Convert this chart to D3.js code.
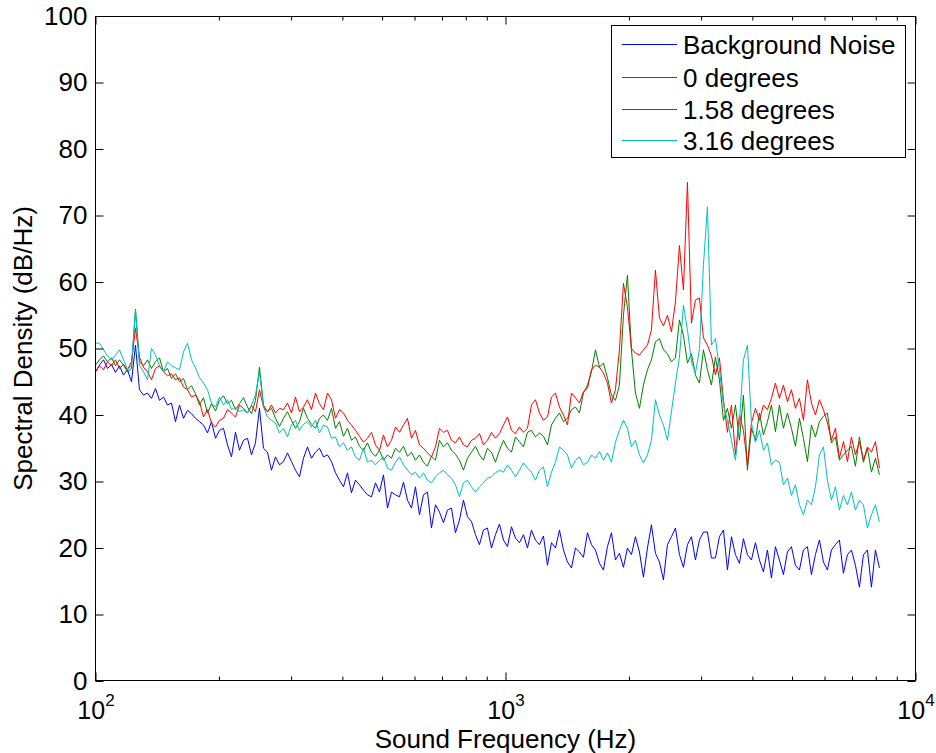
<!DOCTYPE html>
<html>
<head>
<meta charset="utf-8">
<script src="https://cdn.jsdelivr.net/npm/d3@7"></script>
<style>
  html, body { margin: 0; padding: 0; background: #fff; }
  svg { display: block; }
  text { font-family: "Liberation Sans", Arial, Helvetica, sans-serif; fill: #000; }
</style>
</head>
<body>
<svg id="chart" width="936" height="753"></svg>
<script>
// ---------------- data ----------------
const seriesNames = ["Background Noise", "0 degrees", "1.58 degrees", "3.16 degrees"];
const seriesColors = ["#0000ff", "#008000", "#ff0000", "#00bfbf"];
const freqMin = 100, freqMax = 8166, binCount = 197;   // analyser bins, log-spaced (Hz)
const freqs = d3.range(binCount).map(i => freqMin * Math.pow(freqMax / freqMin, i / (binCount - 1)));

const backgroundNoise = [
  46.5, 47.5, 48.3, 47, 47.6, 46.4, 47.4, 46, 46.8, 45,
  50.5, 43.8, 43, 43.3, 42.5, 44, 42.2, 42.7, 41.5, 41.8,
  39, 41.5, 39.5, 40.7, 40.2, 39.5, 39, 38.5, 37.3, 39,
  36.5, 37.7, 38, 35.5, 33.7, 37.4, 34.7, 36.2, 36.5, 34,
  35.8, 41, 35, 34.4, 31.7, 33.7, 32.5, 33, 34.3, 33,
  31.7, 30.7, 33.5, 35.2, 33.5, 34.4, 35, 33.7, 34, 33,
  31.3, 30.2, 29.2, 31.3, 28.3, 30.2, 29.5, 28.7, 28, 27.7,
  29.8, 28.4, 31, 26, 28.4, 28, 27.7, 29.9, 27.2, 26,
  29.2, 25, 28, 28.4, 23, 26.5, 25.4, 23.8, 25.7, 26,
  22.3, 24.2, 27.2, 24.7, 24, 22, 20.5, 22.7, 23, 20,
  22, 23.6, 21.2, 20.2, 23.2, 21.5, 20.8, 22, 20, 22.7,
  21.2, 20.5, 21.8, 17.4, 20.8, 20, 22.7, 19.7, 17.9, 17,
  20, 19.4, 18.6, 22.3, 20.5, 19.7, 17.7, 16.7, 20.2, 22.3,
  18.2, 19.2, 17.1, 20, 19, 21.7, 19.4, 15.6, 20, 23.5,
  19.2, 17.9, 15.2, 20.5, 21.7, 23, 19, 17.1, 20.5, 21.7,
  18.2, 21.2, 22.4, 22.4, 18.5, 18.5, 21.7, 22.7, 16.7, 21.7,
  19, 17.7, 21.4, 19, 18.2, 20.8, 18.2, 16.4, 19.7, 15.5,
  20.2, 18.2, 16, 19.4, 20.2, 17.4, 16.7, 19.7, 20.2, 16,
  19, 21.2, 17.9, 16.7, 19.7, 20.5, 21.2, 16.2, 19, 19.7,
  17.4, 14.1, 19, 19.7, 14.1, 19.7, 17
];
const deg0 = [
  47.5, 48.3, 48.9, 48, 48.6, 47.4, 48.3, 47.5, 46.5, 47,
  55.9, 48, 47.4, 48.3, 47, 48, 48.6, 46.5, 47, 45.5,
  46.2, 45, 45.5, 43.8, 44.4, 43.2, 41.5, 42.6, 40.3, 41.7,
  40.6, 42.2, 42.9, 41.7, 42.2, 40.8, 41.7, 42.6, 41.2, 40.2,
  42.2, 47.2, 41.5, 40.5, 41, 39.5, 38.3, 39.5, 40.5, 39.2,
  38, 39, 41, 39.5, 38.6, 38, 39.5, 40, 39.2, 41,
  38, 39, 36.8, 38, 36.2, 36.7, 35.3, 34.7, 35.8, 34.4,
  33.8, 34.7, 33.2, 34, 33.5, 35, 34.4, 35.3, 33.8, 34.4,
  33.2, 34, 32.9, 32.3, 33.8, 33.2, 36.2, 35.2, 35.8, 34.7,
  34.1, 33.2, 31.7, 33.5, 34.4, 35.3, 34, 33.2, 35, 34.4,
  32.9, 34.7, 36.2, 35, 34.4, 36.7, 36, 35.2, 37.4, 37.7,
  36.7, 37.3, 36.8, 35.5, 38.5, 39.5, 40.3, 39, 39.5, 40.8,
  41.2, 40.3, 43.3, 44.5, 46.5, 49.8, 47.2, 47.8, 45.6, 43,
  42.2, 44.5, 55, 61, 49.8, 43.3, 41, 44.5, 46.8, 48.3,
  51, 51.5, 49.8, 49.2, 48, 48.6, 54.3, 52, 47.8, 49.2,
  46, 44.8, 49.8, 46.8, 44.5, 48.7, 45.3, 39.2, 41, 38,
  41.5, 36.2, 43, 31.7, 38, 36.2, 40.3, 37, 39, 41.5,
  37.5, 41.5, 38, 40.3, 38, 35.3, 39.5, 36.5, 33, 38.5,
  36.7, 39, 39.8, 40.3, 35.8, 36.7, 33.2, 34, 34.7, 35.3,
  32.3, 36.7, 32.9, 35, 31.4, 33.5, 31
];
const deg158 = [
  46.5, 47.4, 46.8, 48, 47.4, 48.3, 47, 47.6, 46.8, 48,
  53, 48.7, 47.2, 46.5, 45.3, 47, 47.4, 46.5, 45.9, 46.2,
  45.3, 45.6, 44.2, 43.8, 42.7, 43, 42, 39.7, 40.8, 38.8,
  38.2, 39.2, 39.5, 40.8, 40.3, 39.7, 41.5, 41, 40.3, 41.4,
  40.5, 43.8, 41.2, 40.5, 41.5, 40.3, 41, 40.8, 41.8, 40.3,
  42.7, 40.5, 41.2, 42.3, 40.8, 43.3, 41.7, 40.8, 43.3, 42.3,
  39.5, 40.8, 40.3, 39.2, 38.5, 37.7, 36.8, 35.9, 36.5, 37.4,
  35.5, 34.7, 37, 35.2, 36.2, 38.2, 37.4, 38.5, 39.5, 36.5,
  37.7, 35.5, 35, 34.3, 33.7, 35.2, 38, 37.4, 37.7, 36.2,
  35.8, 36.7, 35.5, 35.2, 36.2, 36.5, 37.2, 35.5, 36.2, 37.4,
  36.5, 37.2, 38.5, 39.7, 37.7, 37.2, 38.2, 37.4, 38, 41.5,
  42.3, 40.3, 39.2, 39.7, 42.7, 43.3, 41.2, 40, 38.5, 43.3,
  42.6, 41.8, 43.5, 44, 46.8, 47.5, 47.2, 46.3, 44.8, 41.8,
  43.8, 49.8, 59.8, 56.2, 50, 49.3, 49, 49.8, 50.5, 52.8,
  61.8, 54.6, 53.4, 55, 52.5, 57, 65.5, 58.8, 75, 53.8,
  57.3, 57.6, 51.6, 50.5, 48.9, 46, 48.6, 42.3, 37.4, 41.5,
  34, 40, 37.7, 32.5, 38.8, 41, 39.2, 41.5, 40.8, 42.5,
  44.8, 42.5, 44.5, 42, 43.8, 41, 42.5, 39.2, 45.3, 41.8,
  40, 42.3, 40.8, 38.8, 36.2, 38, 33.5, 36, 33, 36.7,
  34, 36, 33.2, 35.2, 34.4, 36, 32
];
const deg316 = [
  50.8, 50.8, 49.8, 48.9, 48.3, 49, 49.8, 48.3, 46.8, 47.5,
  55.8, 47.5, 46.5, 45.3, 50, 49, 47.4, 46.5, 48, 47.4,
  47.1, 46.8, 49.5, 50.8, 48.3, 47.1, 45.6, 44.8, 43.8, 41.8,
  41.2, 42.7, 41.5, 42.3, 40.8, 41.2, 40.5, 40.8, 40.3, 41.5,
  43, 46.5, 41.2, 39.7, 39.2, 38.8, 37.3, 38, 36.7, 38.5,
  39.2, 37.7, 38.6, 39, 38.2, 39.2, 37.3, 38.5, 38.2, 36.5,
  36.7, 35.2, 35.8, 34.7, 35.2, 33.7, 33.2, 35, 32.9, 33.2,
  32.5, 33.2, 33.7, 32, 31.7, 32.9, 33.7, 32.5, 31.7, 31,
  31.4, 30.5, 31.3, 30.2, 29.8, 30.7, 31.3, 31.7, 31, 30.5,
  29.5, 27.7, 29.8, 30.2, 29.2, 28.4, 29.2, 29.8, 30.5, 30.7,
  31.3, 31.7, 31.4, 32.5, 31.7, 30.7, 31.7, 32.8, 32, 31.4,
  30.2, 31.7, 32.2, 29.2, 31.4, 32.9, 35.2, 34.7, 34, 32,
  33.2, 33.7, 32.5, 32.9, 34, 33.5, 34.5, 33.2, 34.3, 32.9,
  35.9, 37.7, 39.2, 38, 35.2, 36.2, 34, 32.8, 34, 36.2,
  42.3, 40, 38.5, 36.2, 40.5, 44.8, 48.7, 56.5, 52.8, 48,
  46.3, 49.8, 62.6, 71.3, 50.5, 51.5, 46.8, 41.5, 39.2, 36.2,
  33.2, 38.8, 48.3, 50.5, 38.8, 35.9, 37.7, 34.7, 35.8, 32.5,
  33.2, 32.9, 29.5, 30.5, 27.9, 29.5, 26.5, 25, 27.2, 26.5,
  29.2, 34, 35.2, 30.2, 27.2, 29.2, 25.7, 27.9, 26.5, 28.4,
  25.7, 27.2, 26.5, 23, 25, 26.5, 23.9
];
const seriesValues = [backgroundNoise, deg0, deg158, deg316];

const xMajorTicks = [100, 1000, 10000];
const xMajorExponents = ["2", "3", "4"];
const xMinorTicks = [200, 300, 400, 500, 600, 700, 800, 900, 2000, 3000, 4000, 5000, 6000, 7000, 8000, 9000];
const yTicks = [0, 10, 20, 30, 40, 50, 60, 70, 80, 90, 100];
const xTitle = "Sound Frequency (Hz)";
const yTitle = "Spectral Density (dB/Hz)";

// ---------------- layout ----------------
const L = 95.5, R = 915.5, T = 16, B = 681;
const svg = d3.select("#chart");
const x = d3.scaleLog().domain([100, 10000]).range([L, R]);
const y = d3.scaleLinear().domain([0, 100]).range([B, T]);
const FONT = 26;

// series
const line = d3.line().x(d => x(d[0])).y(d => y(d[1]));
const plot = svg.append("g");
seriesValues.forEach((vals, k) => {
  plot.append("path")
    .datum(freqs.map((f, i) => [f, vals[i]]))
    .attr("fill", "none")
    .attr("stroke", seriesColors[k])
    .attr("stroke-width", 1)
    .attr("stroke-linejoin", "round")
    .attr("d", line);
});

// frame
svg.append("rect")
  .attr("x", L).attr("y", T + 0.5).attr("width", R - L).attr("height", B - T - 1)
  .attr("fill", "none").attr("stroke", "#000").attr("stroke-width", 1);

// axes (ticks inward)
const gx = svg.append("g").attr("transform", `translate(0,${B - 0.5})`)
  .call(d3.axisBottom(x).tickValues(xMajorTicks).tickSize(-8).tickFormat(""));
const gxMinor = svg.append("g").attr("transform", `translate(0,${B - 0.5})`)
  .call(d3.axisBottom(x).tickValues(xMinorTicks).tickSize(-4).tickFormat(""));
const gxTop = svg.append("g").attr("transform", `translate(0,${T + 0.5})`)
  .call(d3.axisTop(x).tickValues(xMajorTicks).tickSize(-8).tickFormat(""));
const gxTopMinor = svg.append("g").attr("transform", `translate(0,${T + 0.5})`)
  .call(d3.axisTop(x).tickValues(xMinorTicks).tickSize(-4).tickFormat(""));
const gy = svg.append("g").attr("transform", `translate(${L},0)`)
  .call(d3.axisLeft(y).tickValues(yTicks).tickSize(-8).tickPadding(8).tickFormat(d3.format("d")));
const gyR = svg.append("g").attr("transform", `translate(${R},0)`)
  .call(d3.axisRight(y).tickValues(yTicks).tickSize(-8).tickFormat(""));

[gx, gxMinor, gxTop, gxTopMinor, gy, gyR].forEach(g => {
  g.select(".domain").remove();
  g.selectAll(".tick line").attr("stroke", "#000").attr("stroke-width", 1);
});
gy.selectAll(".tick text")
  .style("font-family", '"Liberation Sans", Arial, sans-serif')
  .attr("font-size", FONT).attr("fill", "#000");

// x labels with superscript exponent
gx.selectAll(".tick").each(function(d, i) {
  const t = d3.select(this).append("text")
    .attr("y", 38.5).attr("text-anchor", "middle")
    .attr("font-size", 25).attr("fill", "#000");
  t.append("tspan").text("10");
  t.append("tspan").attr("font-size", 17).attr("dy", -13).text(xMajorExponents[i]);
});

// titles
svg.append("text").attr("x", (L + R) / 2).attr("y", 748)
  .attr("text-anchor", "middle").attr("font-size", FONT).text(xTitle);
svg.append("text").attr("transform", `translate(31.5,${(T + B) / 2}) rotate(-90)`)
  .attr("text-anchor", "middle").attr("font-size", FONT).text(yTitle);

// legend
const lg = svg.append("g");
lg.append("rect").attr("x", 611.5).attr("y", 25.5).attr("width", 294).attr("height", 132)
  .attr("fill", "#fff").attr("stroke", "#000").attr("stroke-width", 1);
const rowY = [44, 77, 109, 140];
seriesNames.forEach((name, k) => {
  lg.append("line").attr("x1", 622).attr("x2", 677).attr("y1", rowY[k] + 0.5).attr("y2", rowY[k] + 0.5)
    .attr("stroke", seriesColors[k]).attr("stroke-width", 1);
  lg.append("text").attr("x", 683).attr("y", rowY[k] + 9.5).attr("font-size", FONT).text(name);
});
</script>
</body>
</html>
